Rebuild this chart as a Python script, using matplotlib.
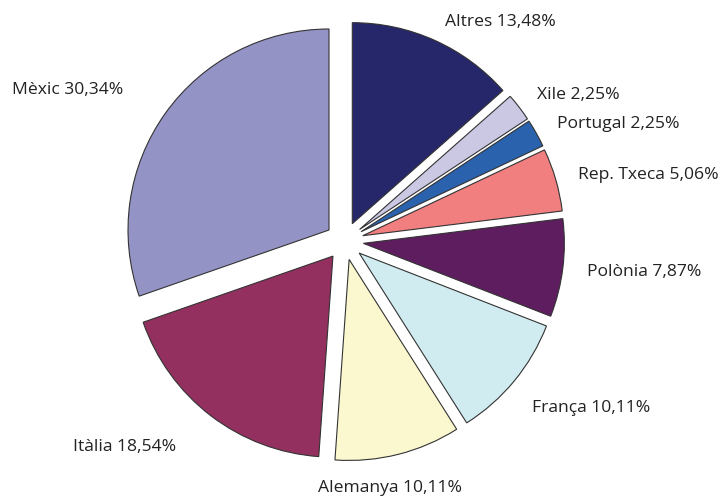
import matplotlib.pyplot as plt

# share of each destination (%), clockwise from the top
labels = ["Altres", "Xile", "Portugal", "Rep. Txeca", "Polònia",
          "França", "Alemanya", "Itàlia", "Mèxic"]
shares = [13.48, 2.25, 2.25, 5.06, 7.87, 10.11, 10.11, 18.54, 30.34]

colors = ["#26266a", "#cbc8e4", "#2a62ad", "#f27f7f", "#5d1d5f",
          "#d0ecf1", "#fbf8d0", "#93305f", "#9493c6"]

# label anchor (left x, centre y) in pixels from the top-left corner
label_pos = [(445, 22), (537, 95), (557, 124), (578, 175), (587, 272),
             (532, 408), (318, 488), (73, 447), (12, 90)]

W, H = 720, 500
fig = plt.figure(figsize=(W / 100, H / 100), dpi=100)
ax = fig.add_axes([0, 0, 1, 1])

# explode is in data units here (1 unit = 1 px)
ax.pie(shares, colors=colors, startangle=90, counterclock=False,
       explode=[19] * len(shares), radius=201, center=(344.5, H - 241),
       wedgeprops=dict(edgecolor="#333333", linewidth=0.8))

for lab, val, (x, y) in zip(labels, shares, label_pos):
    txt = lab + " " + f"{val:.2f}".replace(".", ",") + "%"
    ax.text(x, H - y, txt, ha="left", va="center", fontsize=12.6,
            family="Open Sans", color="#222222")

ax.set_xlim(0, W)
ax.set_ylim(0, H)
ax.set_aspect("auto")
ax.axis("off")

plt.savefig("out.png", dpi=100)
plt.close()
